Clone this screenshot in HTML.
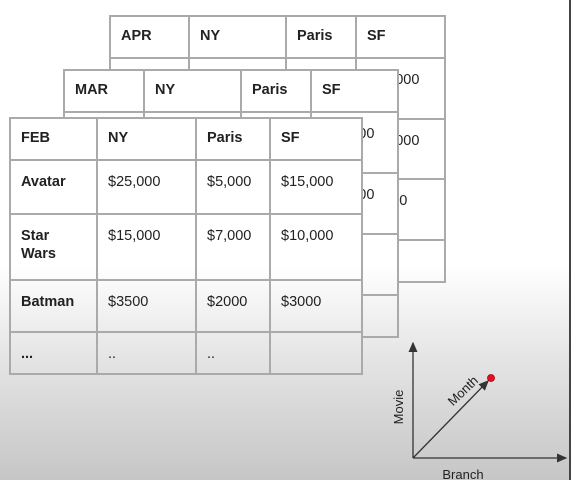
<!DOCTYPE html>
<html><head><meta charset="utf-8"><style>
html,body{margin:0;padding:0}
body{width:571px;height:480px;position:relative;overflow:hidden;font-family:"Liberation Sans","DejaVu Sans",sans-serif;
background:linear-gradient(to bottom,#fff 0px,#fff 265px,#e4e4e4 360px,#c6c6c6 480px);}
.tbl{position:absolute;box-sizing:border-box;border-left:2px solid #aaa;border-top:2px solid #aaa;background:linear-gradient(to bottom,#fff 0px,#fff 265px,#e4e4e4 360px,#c6c6c6 480px);background-attachment:fixed;}
.c{position:absolute;box-sizing:border-box;border-right:2px solid #aaa;border-bottom:2px solid #aaa;font-size:14.5px;color:#222;padding-left:10px;line-height:18px}
.h{font-weight:bold}
#edge{position:absolute;left:569px;top:0;width:2px;height:480px;background:#444}
</style></head><body>
<div id="edge"></div>
<div id="root"></div>
<svg width="571" height="480" style="position:absolute;left:0;top:0">
<defs><marker id="ar" markerWidth="8" markerHeight="8" refX="7" refY="4" orient="auto"><path d="M0,0.5 L8,4 L0,7.5 z" fill="#333"/></marker></defs>
<line x1="413" y1="458" x2="413" y2="343" stroke="#333" stroke-width="1.3" marker-end="url(#ar)"/>
<line x1="413" y1="458" x2="566" y2="458" stroke="#333" stroke-width="1.3" marker-end="url(#ar)"/>
<line x1="413" y1="458" x2="488" y2="381" stroke="#333" stroke-width="1.3" marker-end="url(#ar)"/>
<circle cx="491" cy="378" r="3.5" fill="#e0102a" stroke="#a00" stroke-width="0.8"/>
<text x="0" y="0" transform="translate(403,407) rotate(-90)" text-anchor="middle" font-size="13" fill="#222" font-family="Liberation Sans, sans-serif">Movie</text>
<text x="0" y="0" transform="translate(466,394) rotate(-44)" text-anchor="middle" font-size="13" fill="#222" font-family="Liberation Sans, sans-serif">Month</text>
<text x="463" y="479" text-anchor="middle" font-size="13" fill="#222" font-family="Liberation Sans, sans-serif">Branch</text>
</svg>
<script>
const tables=[
 {name:'apr-table',cols:[109,188,285,355,444],rows:[15,57,118,178,239,281],
  cells:[['APR','NY','Paris','SF'],['','','','$15,000'],['','','','$10,000'],['','','','$3000'],['','','','']]},
 {name:'mar-table',cols:[63,143,240,310,397],rows:[69,111,172,233,294,336],
  cells:[['MAR','NY','Paris','SF'],['','','','$15,000'],['','','','$10,000'],['','','','$3000'],['','','','']]},
 {name:'feb-table',cols:[9,96,195,269,361],rows:[117,159,213,279,331,373],
  cells:[['FEB','NY','Paris','SF'],['Avatar','$25,000','$5,000','$15,000'],['Star Wars','$15,000','$7,000','$10,000'],['Batman','$3500','$2000','$3000'],['...','..','..','']]}
];
const root=document.getElementById('root');
tables.forEach(t=>{
 const d=document.createElement('div');d.className='tbl';
 
 
 const x0=t.cols[0],y0=t.rows[0];
 d.style.left=x0+'px';d.style.top=y0+'px';
 d.style.width=(t.cols[4]-x0+2)+'px';d.style.height=(t.rows[5]-y0+2)+'px';
 for(let r=0;r<5;r++)for(let c=0;c<4;c++){
  const e=document.createElement('div');
  e.className='c'+((r==0||c==0)?' h':'');
  
  
  e.style.left=(t.cols[c]-x0)+'px';e.style.top=(t.rows[r]-y0)+'px';
  e.style.width=(t.cols[c+1]-t.cols[c])+'px';e.style.height=(t.rows[r+1]-t.rows[r])+'px';
  e.style.paddingTop=(r==0?10:12)+'px';
  if(t.cells[r][c]=='Star Wars'){e.innerHTML='Star<br>Wars';}
  else e.textContent=t.cells[r][c];
  d.appendChild(e);
 }
 root.appendChild(d);
});
</script>
</body></html>
